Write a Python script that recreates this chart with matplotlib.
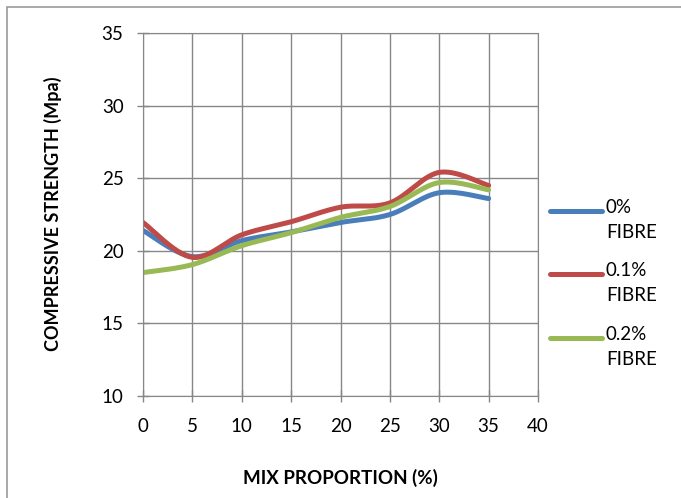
import numpy as np
import matplotlib
matplotlib.use("Agg")
import matplotlib.pyplot as plt
from matplotlib.patches import Rectangle
from matplotlib.lines import Line2D

plt.rcParams['font.family'] = ['Lato', 'DejaVu Sans']

mix = [0, 5, 10, 15, 20, 25, 30, 35]
fibre_0 = [21.4, 19.6, 20.7, 21.3, 21.95, 22.5, 24.0, 23.6]
fibre_01 = [21.95, 19.55, 21.1, 22.0, 23.0, 23.3, 25.4, 24.5]
fibre_02 = [18.5, 19.05, 20.35, 21.25, 22.3, 23.05, 24.7, 24.2]
labels = ["0%\nFIBRE", "0.1%\nFIBRE", "0.2%\nFIBRE"]
colors = ["#4A7EBB", "#BE4B48", "#98B954"]


# Excel-style smoothed line (Catmull-Rom through the points)
def smooth(x, y, n=30):
    x = np.asarray(x, float)
    y = np.asarray(y, float)
    px = np.concatenate([[x[0]], x, [x[-1]]])
    py = np.concatenate([[y[0]], y, [y[-1]]])
    xs, ys = [], []
    t = np.linspace(0, 1, n)
    for i in range(1, len(px) - 2):
        for p, out in ((px, xs), (py, ys)):
            p0, p1, p2, p3 = p[i - 1], p[i], p[i + 1], p[i + 2]
            m1 = (p2 - p0) / 2
            m2 = (p3 - p1) / 2
            h00 = 2 * t**3 - 3 * t**2 + 1
            h10 = t**3 - 2 * t**2 + t
            h01 = -2 * t**3 + 3 * t**2
            h11 = t**3 - t**2
            out.extend(h00 * p1 + h10 * m1 + h01 * p2 + h11 * m2)
    return xs, ys


W, H = 681, 498
fig = plt.figure(figsize=(W / 100, H / 100), dpi=100)
fig.patches.append(Rectangle((7 / W, -0.1), 1.2, 1 - 7 / H + 0.1,
                             transform=fig.transFigure, fill=False,
                             edgecolor="#9a9a9a", linewidth=1.2))
ax = fig.add_axes([143 / W, 1 - 396 / H, 395 / W, 363 / H])

for ys, c in zip([fibre_0, fibre_01, fibre_02], colors):
    sx, sy = smooth(mix, ys)
    ax.plot(sx, sy, color=c, linewidth=3.6, solid_capstyle="round")

ax.set_xlim(0, 40)
ax.set_ylim(10, 35)
ax.set_xticks(range(0, 41, 5))
ax.set_yticks(range(10, 36, 5))
ax.grid(True, color="#878787", linewidth=1.0)
ax.set_axisbelow(True)
for s in ax.spines.values():
    s.set_color("#878787")
ax.tick_params(colors="#878787", labelcolor="black", labelsize=13.5,
               length=8, width=1, direction="inout")
ax.tick_params(axis="x", pad=12)
ax.tick_params(axis="y", pad=10)

fig.text(340 / W, 1 - 478 / H, "MIX PROPORTION (%)", fontsize=13.5,
         fontweight="bold", ha="center", va="center")
fig.text(53 / W, 1 - 214 / H, "COMPRESSIVE STRENGTH (Mpa)", fontsize=13,
         fontweight="bold", ha="center", va="center", rotation=90)

# legend: handle level with the first text line
leg_y = [211, 274, 338]
for yy, lab, c in zip(leg_y, labels, colors):
    fig.add_artist(Line2D([550 / W, 602 / W], [1 - yy / H] * 2, color=c,
                          linewidth=3.6, solid_capstyle="round",
                          transform=fig.transFigure))
    fig.text(606 / W, 1 - (yy - 12) / H, lab, fontsize=13.5, ha="left",
             va="top", linespacing=1.55)

fig.savefig("out.png", dpi=100)
